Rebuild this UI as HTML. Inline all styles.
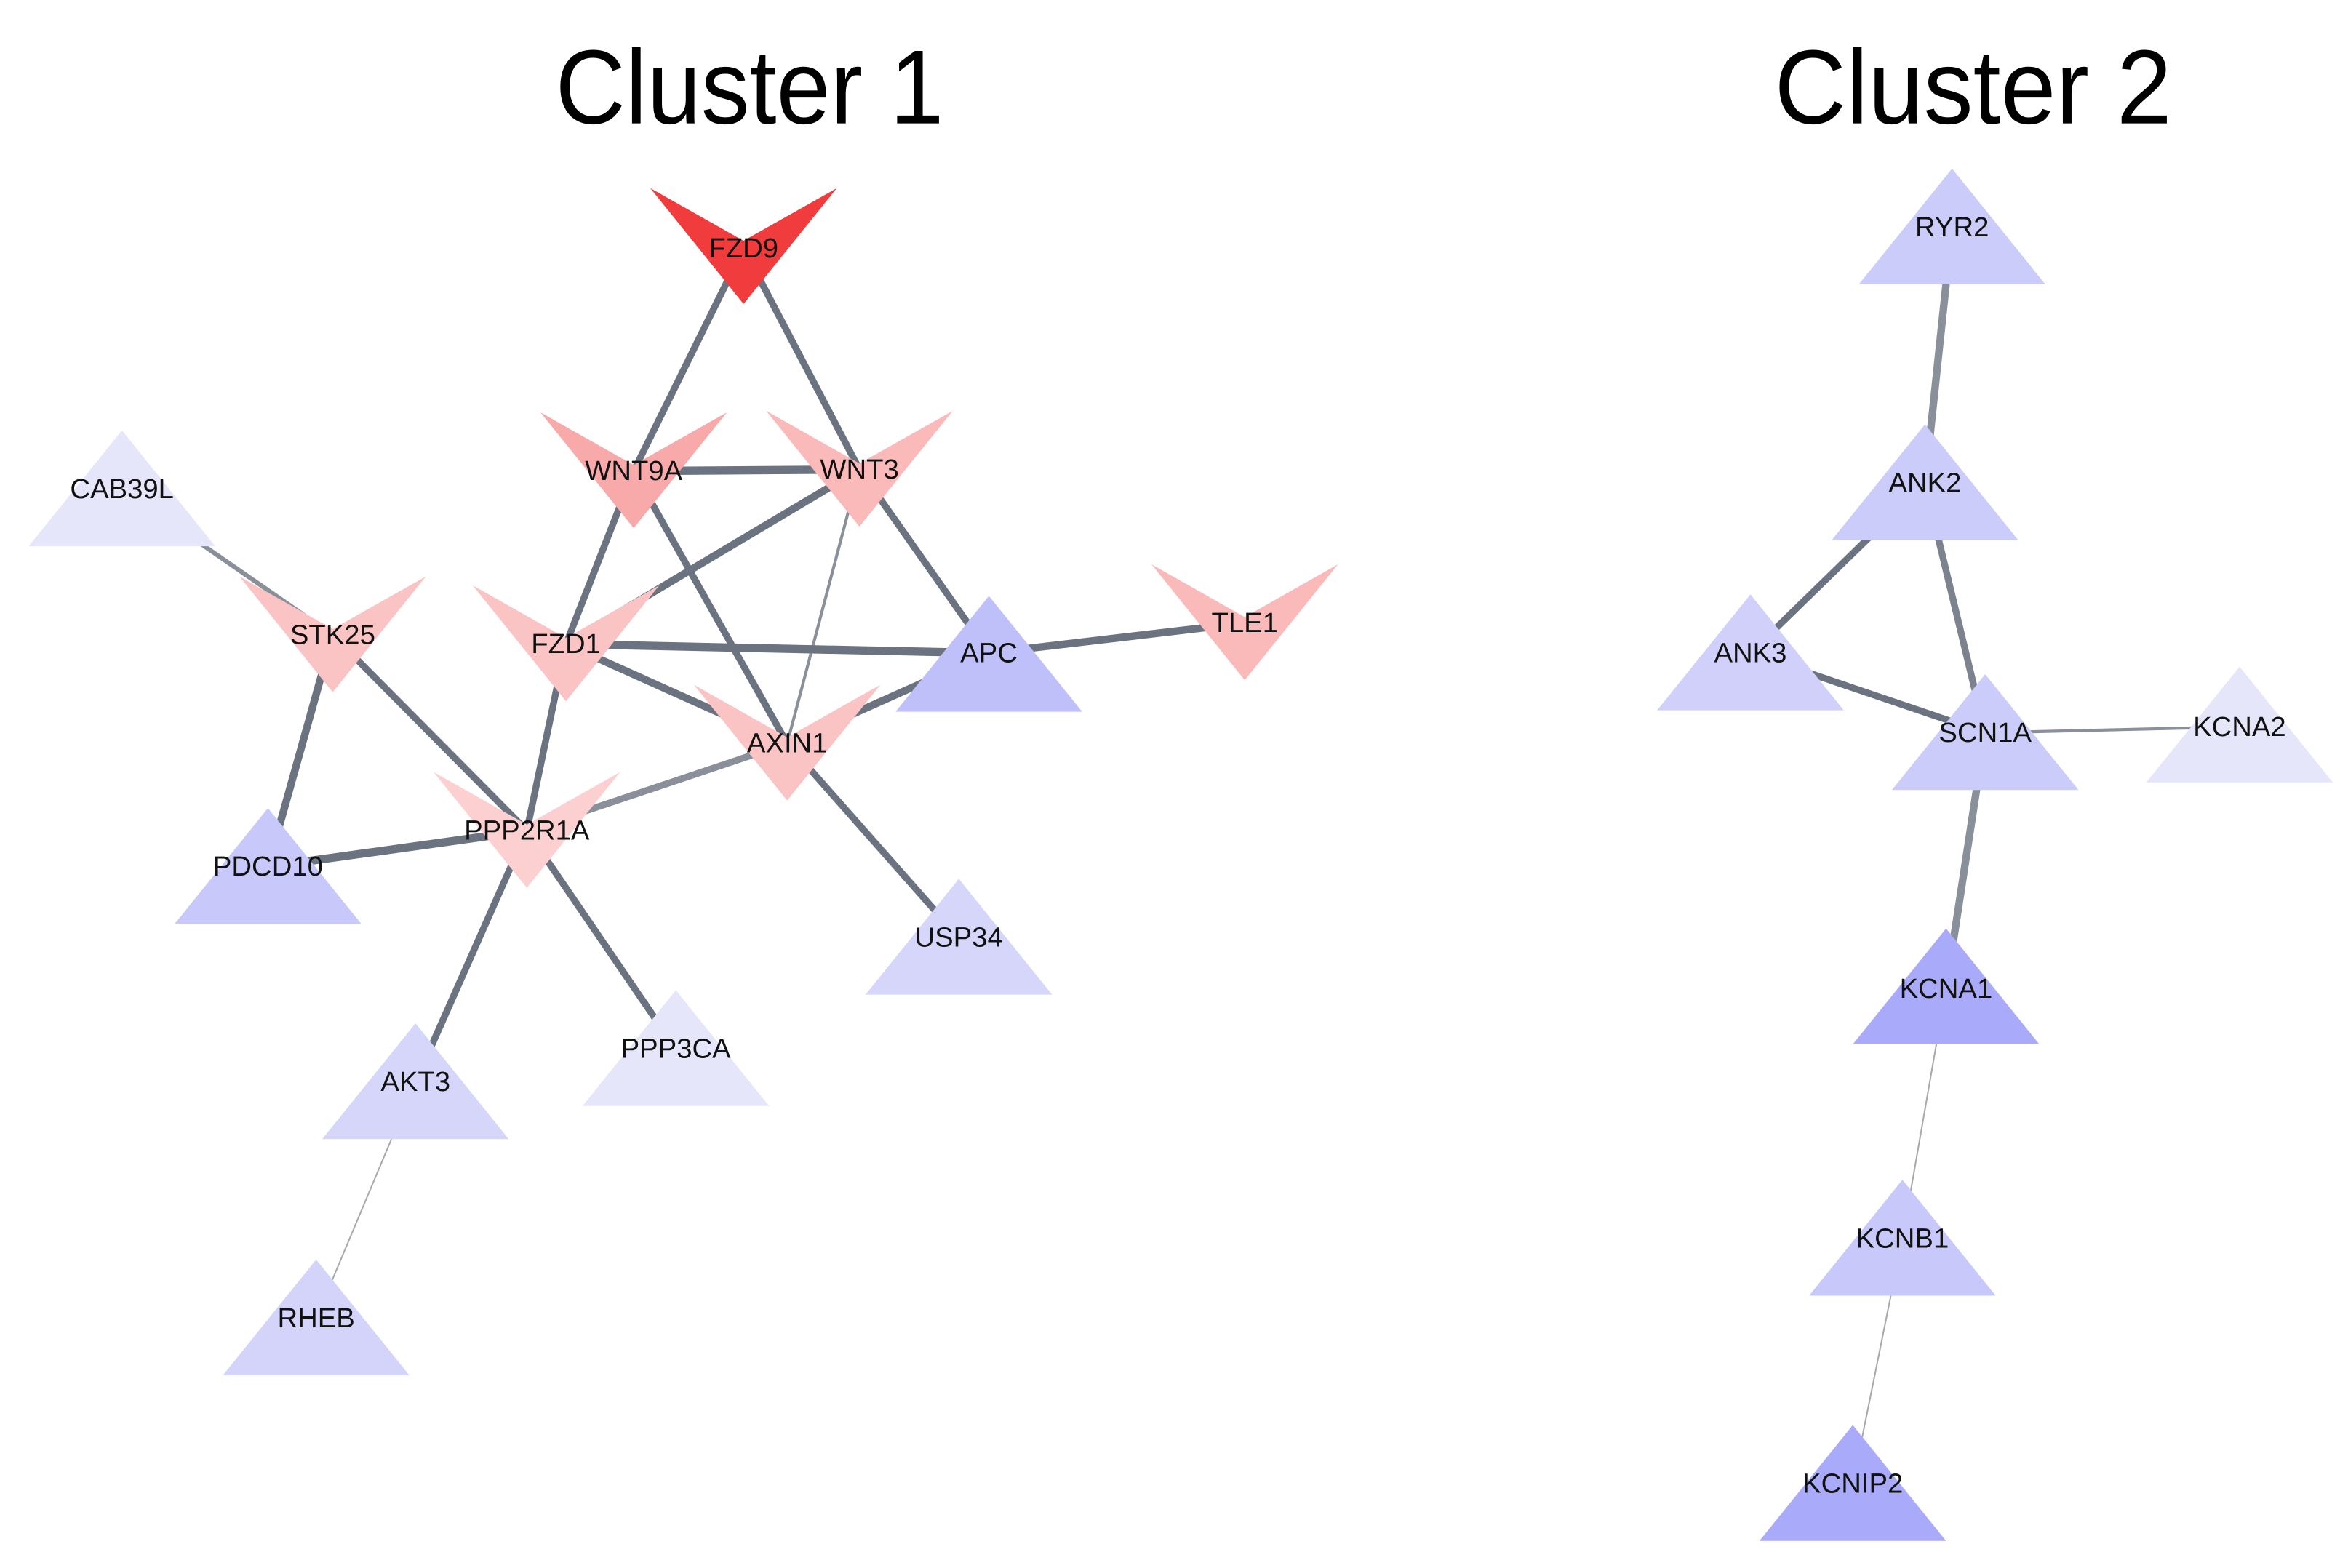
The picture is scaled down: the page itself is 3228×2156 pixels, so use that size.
<!DOCTYPE html>
<html><head><meta charset="utf-8"><style>
html,body{margin:0;padding:0;background:#fff;}
svg{display:block;}
text{font-family:"Liberation Sans",Arial,sans-serif;}
</style></head><body>
<svg width="3228" height="2156" viewBox="0 0 1560 1042" xmlns="http://www.w3.org/2000/svg">
<rect width="1560" height="1042" fill="#fff"/>
<text x="369" y="82" font-size="70" textLength="258" lengthAdjust="spacingAndGlyphs" fill="#000">Cluster 1</text>
<text x="1179" y="82" font-size="70" textLength="264" lengthAdjust="spacingAndGlyphs" fill="#000">Cluster 2</text>

<g stroke="#6b7380" stroke-linecap="butt" fill="none">
<line x1="494" y1="165" x2="421" y2="313" stroke-width="4.5"/>
<line x1="494" y1="165" x2="571" y2="312" stroke-width="4.5"/>
<line x1="421" y1="313" x2="571" y2="312" stroke-width="5.5"/>
<line x1="571" y1="312" x2="376" y2="428" stroke-width="5"/>
<line x1="571" y1="312" x2="657" y2="434" stroke-width="4.5"/>
<line x1="571" y1="312" x2="523" y2="494" stroke-width="2" stroke="#8a909a"/>
<line x1="421" y1="313" x2="376" y2="428" stroke-width="4.5"/>
<line x1="421" y1="313" x2="523" y2="494" stroke-width="4.5"/>
<line x1="376" y1="428" x2="657" y2="434" stroke-width="5.5"/>
<line x1="376" y1="428" x2="523" y2="494" stroke-width="5"/>
<line x1="376" y1="428" x2="350" y2="552" stroke-width="4.5"/>
<line x1="657" y1="434" x2="523" y2="494" stroke-width="5"/>
<line x1="657" y1="434" x2="827" y2="414" stroke-width="5"/>
<line x1="221" y1="422" x2="81" y2="325" stroke-width="3" stroke="#8a909a"/>
<line x1="221" y1="422" x2="178" y2="576" stroke-width="5"/>
<line x1="221" y1="422" x2="350" y2="552" stroke-width="4.5"/>
<line x1="178" y1="576" x2="350" y2="552" stroke-width="5.5"/>
<line x1="523" y1="494" x2="350" y2="552" stroke-width="4.5" stroke="#8a909a"/>
<line x1="523" y1="494" x2="637" y2="623" stroke-width="4.5"/>
<line x1="350" y1="552" x2="276" y2="719" stroke-width="4.5"/>
<line x1="350" y1="552" x2="449" y2="697" stroke-width="4.5"/>
<line x1="276" y1="719" x2="210" y2="876" stroke-width="1" stroke="#aaaaaa"/>

<line x1="1297" y1="151" x2="1279" y2="321" stroke-width="5" stroke="#8a909a"/>
<line x1="1279" y1="321" x2="1163" y2="434" stroke-width="4.5"/>
<line x1="1279" y1="321" x2="1319" y2="487" stroke-width="4.5" stroke="#7d838e"/>
<line x1="1163" y1="434" x2="1319" y2="487" stroke-width="4.5"/>
<line x1="1319" y1="487" x2="1488" y2="483" stroke-width="2" stroke="#8a909a"/>
<line x1="1319" y1="487" x2="1293" y2="657" stroke-width="5" stroke="#8a909a"/>
<line x1="1293" y1="657" x2="1264" y2="823" stroke-width="1" stroke="#aaaaaa"/>
<line x1="1264" y1="823" x2="1231" y2="986" stroke-width="1" stroke="#aaaaaa"/>
</g>

<g>
<polygon points="432,125 494,160 556,125 494,202" fill="#f03c3c"/>
<polygon points="359,274 421,309 483,274 421,351" fill="#f8aaaa"/>
<polygon points="509,273 571,308 633,273 571,350" fill="#fbbaba"/>
<polygon points="159,383 221,418 283,383 221,460" fill="#fbc4c4"/>
<polygon points="314,389 376,424 438,389 376,466" fill="#fbc4c4"/>
<polygon points="765,375 827,410 889,375 827,452" fill="#fbbaba"/>
<polygon points="461,455 523,490 585,455 523,532" fill="#fbc4c4"/>
<polygon points="288,513 350,548 412,513 350,590" fill="#fcd0d0"/>
<polygon points="81,286 19,363 143,363" fill="#e6e6fa"/>
<polygon points="657,396 595,473 719,473" fill="#bfbffa"/>
<polygon points="178,537 116,614 240,614" fill="#c8c8fa"/>
<polygon points="637,584 575,661 699,661" fill="#d6d6fa"/>
<polygon points="449,658 387,735 511,735" fill="#e6e6fa"/>
<polygon points="276,680 214,757 338,757" fill="#d6d6fa"/>
<polygon points="210,837 148,914 272,914" fill="#d4d4fa"/>
<polygon points="1297,112 1235,189 1359,189" fill="#ccccfa"/>
<polygon points="1279,282 1217,359 1341,359" fill="#ccccfa"/>
<polygon points="1163,395 1101,472 1225,472" fill="#d0d0fa"/>
<polygon points="1319,448 1257,525 1381,525" fill="#ccccfa"/>
<polygon points="1488,443 1426,520 1550,520" fill="#e6e6fa"/>
<polygon points="1293,617 1231,694 1355,694" fill="#aaaafa"/>
<polygon points="1264,784 1202,861 1326,861" fill="#c8c8fa"/>
<polygon points="1231,947 1169,1024 1293,1024" fill="#aaaafa"/>
</g>

<g font-size="18.5" fill="#111" text-anchor="middle">
<text x="494" y="171">FZD9</text>
<text x="421" y="319">WNT9A</text>
<text x="571" y="318">WNT3</text>
<text x="221" y="428">STK25</text>
<text x="376" y="434">FZD1</text>
<text x="827" y="420">TLE1</text>
<text x="523" y="500">AXIN1</text>
<text x="350" y="558">PPP2R1A</text>
<text x="81" y="331">CAB39L</text>
<text x="657" y="440">APC</text>
<text x="178" y="582">PDCD10</text>
<text x="637" y="629">USP34</text>
<text x="449" y="703">PPP3CA</text>
<text x="276" y="725">AKT3</text>
<text x="210" y="882">RHEB</text>
<text x="1297" y="157">RYR2</text>
<text x="1279" y="327">ANK2</text>
<text x="1163" y="440">ANK3</text>
<text x="1319" y="493">SCN1A</text>
<text x="1488" y="489">KCNA2</text>
<text x="1293" y="663">KCNA1</text>
<text x="1264" y="829">KCNB1</text>
<text x="1231" y="992">KCNIP2</text>
</g>
</svg>
</body></html>
